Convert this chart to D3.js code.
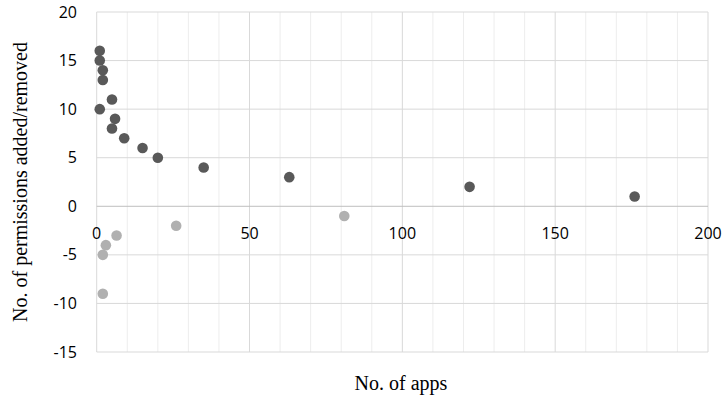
<!DOCTYPE html>
<html>
<head>
<meta charset="utf-8">
<script src="https://cdn.jsdelivr.net/npm/d3@7"></script>
<style>
  html, body { margin: 0; padding: 0; background: #fff; }
  svg { display: block; }
</style>
</head>
<body>
<svg id="chart" width="724" height="398"></svg>
<script>
// Data
const addedApps  = [1, 1, 2, 2, 5, 1, 6, 5, 9, 15, 20, 35, 63, 122, 176];
const addedPerms = [16, 15, 14, 13, 11, 10, 9, 8, 7, 6, 5, 4, 3, 2, 1];
const removedApps  = [26, 6.5, 3, 2, 2, 81];
const removedPerms = [-2, -3, -4, -5, -9, -1];
const xTicks = [0, 50, 100, 150, 200];
const yTicks = [-15, -10, -5, 0, 5, 10, 15, 20];
const xMinor = d3.range(0, 201, 10);

const svg = d3.select("#chart");
const pLeft = 96.7, pRight = 708, pTop = 12, pBottom = 352;

const x = d3.scaleLinear().domain([0, 200]).range([pLeft, pRight]);
const y = d3.scaleLinear().domain([-15, 20]).range([pBottom, pTop]);

const g = svg.append("g");

// minor vertical gridlines
g.selectAll("line.vminor").data(xMinor.filter(d => d % 50 !== 0)).join("line")
  .attr("x1", d => x(d)).attr("x2", d => x(d))
  .attr("y1", pTop).attr("y2", pBottom)
  .attr("stroke", "#ededed").attr("stroke-width", 1);

// major vertical gridlines
g.selectAll("line.vmajor").data(xTicks).join("line")
  .attr("x1", d => x(d)).attr("x2", d => x(d))
  .attr("y1", pTop).attr("y2", pBottom)
  .attr("stroke", "#d9d9d9").attr("stroke-width", 1);

// horizontal gridlines
g.selectAll("line.h").data(yTicks).join("line")
  .attr("x1", pLeft).attr("x2", pRight)
  .attr("y1", d => y(d)).attr("y2", d => y(d))
  .attr("stroke", d => d === 0 ? "#bfbfbf" : "#d9d9d9").attr("stroke-width", 1);

// y tick labels
g.selectAll("text.yt").data(yTicks).join("text")
  .attr("x", 77).attr("y", d => y(d))
  .attr("dy", "0.35em")
  .attr("text-anchor", "end")
  .attr("font-family", "'Open Sans', sans-serif")
  .attr("font-size", 16)
  .attr("fill", "#000")
  .text(d => d);

// x tick labels (positioned just below zero line)
g.selectAll("text.xt").data(xTicks).join("text")
  .attr("x", d => x(d)).attr("y", y(0) + 33)
  .attr("text-anchor", "middle")
  .attr("font-family", "'Open Sans', sans-serif")
  .attr("font-size", 16)
  .attr("fill", "#000")
  .text(d => d);

// points
const added = addedApps.map((a, i) => ({ a, p: addedPerms[i] }));
const removed = removedApps.map((a, i) => ({ a, p: removedPerms[i] }));

g.selectAll("circle.rem").data(removed).join("circle")
  .attr("cx", d => x(d.a)).attr("cy", d => y(d.p)).attr("r", 5.3)
  .attr("fill", "#b0b0b0");

g.selectAll("circle.add").data(added).join("circle")
  .attr("cx", d => x(d.a)).attr("cy", d => y(d.p)).attr("r", 5.3)
  .attr("fill", "#595959");

// axis titles
svg.append("text")
  .attr("x", 401).attr("y", 390)
  .attr("text-anchor", "middle")
  .attr("font-family", "'Liberation Serif', 'Times New Roman', serif")
  .attr("font-size", 20)
  .attr("fill", "#000")
  .text("No. of apps");

svg.append("text")
  .attr("transform", "translate(27,182) rotate(-90)")
  .attr("text-anchor", "middle")
  .attr("font-family", "'Liberation Serif', 'Times New Roman', serif")
  .attr("font-size", 20)
  .attr("fill", "#000")
  .text("No. of permissions added/removed");
</script>
</body>
</html>
